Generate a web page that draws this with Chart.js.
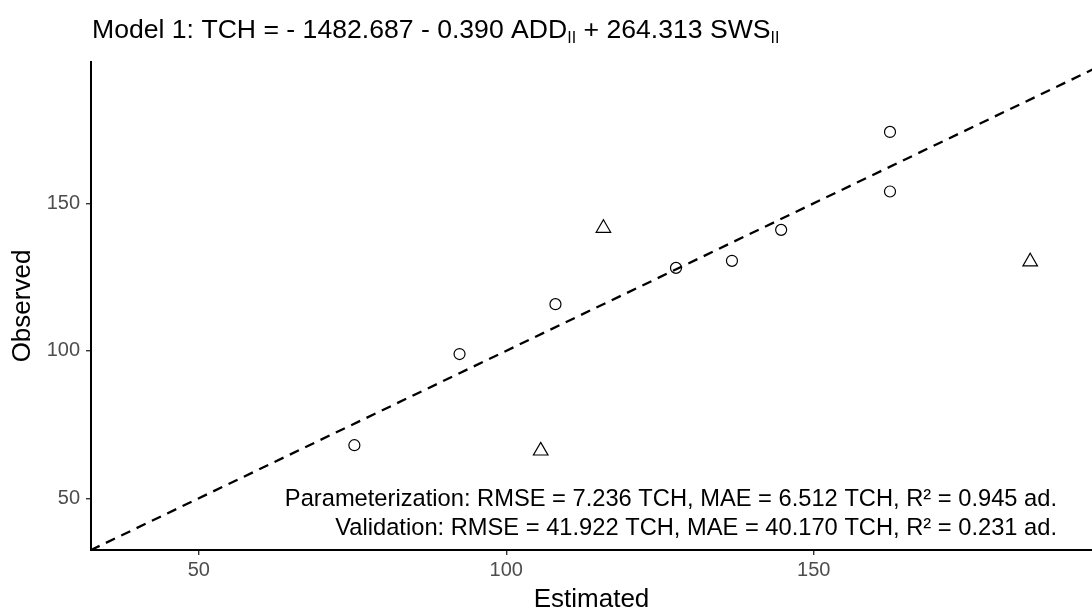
<!DOCTYPE html>
<html>
<head>
<meta charset="utf-8">
<script src="https://cdn.jsdelivr.net/npm/chart.js@4/dist/chart.umd.min.js"></script>
<style>
html, body { margin: 0; padding: 0; background: #fff; }
</style>
</head>
<body>
<canvas id="myChart" width="1092" height="610"></canvas>
<script>
// values
const paramEstimated = [75.3, 92.4, 108.0, 127.6, 136.7, 144.7, 162.4, 162.4];
const paramObserved  = [68.0, 98.9, 115.8, 128.1, 130.5, 141.0, 174.2, 154.0];
const validEstimated = [105.6, 115.8, 185.2];
const validObserved  = [66.1, 141.6, 130.2];
const lineX = [0, 200];          // 1:1 line
const xTicks = [50, 100, 150];
const yTicks = [50, 100, 150];
const titleParts = [
    { t: 'Model 1: TCH = - 1482.687 - 0.390 ADD' },
    { t: 'II', sub: true },
    { t: ' + 264.313 SWS' },
    { t: 'II', sub: true }
];
const statLines = [
    'Parameterization: RMSE = 7.236 TCH, MAE = 6.512 TCH, R\u00b2 = 0.945 ad.',
    'Validation: RMSE = 41.922 TCH, MAE = 40.170 TCH, R\u00b2 = 0.231 ad.'
];

const FONT = '"Liberation Sans", Arial, sans-serif';

function toPoints(xs, ys) {
    return xs.map((x, i) => ({ x: x, y: ys[i] }));
}

// title and stats text drawn on top
const textPlugin = {
    id: 'texts',
    afterDraw(chart) {
        const ctx = chart.ctx;
        ctx.save();
        ctx.fillStyle = '#000';
        ctx.textBaseline = 'alphabetic';
        let x = 92;
        const y = 38;
        titleParts.forEach(p => {
            ctx.font = (p.sub ? '16px ' : '26.6px ') + FONT;
            ctx.fillText(p.t, x, y + (p.sub ? 5 : 0));
            x += ctx.measureText(p.t).width;
        });
        ctx.font = '23.7px ' + FONT;
        ctx.textAlign = 'right';
        statLines.forEach((s, i) => ctx.fillText(s, 1057, 506 + i * 29));
        ctx.restore();
    }
};

var ctx = document.getElementById('myChart').getContext('2d');
var myChart = new Chart(ctx, {
    type: 'scatter',
    data: {
        datasets: [{
            label: '1:1',
            type: 'line',
            data: toPoints(lineX, lineX),
            borderColor: '#000',
            borderWidth: 2.3,
            borderDash: [10, 7],
            pointRadius: 0,
            fill: false
        }, {
            label: 'Parameterization',
            data: toPoints(paramEstimated, paramObserved),
            pointStyle: 'circle',
            pointRadius: 5.5,
            pointBorderWidth: 1.2,
            borderColor: '#000',
            backgroundColor: 'rgba(0,0,0,0)'
        }, {
            label: 'Validation',
            data: toPoints(validEstimated, validObserved),
            pointStyle: 'triangle',
            pointRadius: 8.4,
            pointBorderWidth: 1.2,
            borderColor: '#000',
            backgroundColor: 'rgba(0,0,0,0)'
        }]
    },
    options: {
        responsive: false,
        animation: false,
        layout: { autoPadding: false, padding: { top: 62, right: 0, left: 0, bottom: 0 } },
        plugins: {
            legend: { display: false },
            tooltip: { enabled: false }
        },
        scales: {
            x: {
                type: 'linear',
                min: 32.47,
                max: 195.25,
                afterBuildTicks: s => { s.ticks = xTicks.map(v => ({ value: v })); },
                afterFit: s => { s.height = 60; s.paddingRight = 0; },
                grid: { display: true, drawOnChartArea: false, drawTicks: true, tickLength: 5, color: '#333', lineWidth: 1.4 },
                border: { display: true, color: '#000', width: 2 },
                ticks: { color: '#4d4d4d', font: { family: FONT, size: 20 }, padding: 3, maxRotation: 0 },
                title: { display: true, text: 'Estimated', color: '#000', font: { family: FONT, size: 26, lineHeight: 0.8 }, padding: 0 }
            },
            y: {
                type: 'linear',
                min: 32.47,
                max: 197.9,
                afterBuildTicks: s => { s.ticks = yTicks.map(v => ({ value: v })); },
                afterFit: s => { s.width = 91; },
                grid: { display: true, drawOnChartArea: false, drawTicks: true, tickLength: 5, color: '#333', lineWidth: 1.4 },
                border: { display: true, color: '#000', width: 2 },
                ticks: { color: '#4d4d4d', font: { family: FONT, size: 20 }, padding: 6 },
                title: { display: true, text: 'Observed', color: '#000', font: { family: FONT, size: 26, lineHeight: 1.2 }, padding: { top: 7, bottom: 0 } }
            }
        }
    },
    plugins: [textPlugin]
});
</script>
</body>
</html>
